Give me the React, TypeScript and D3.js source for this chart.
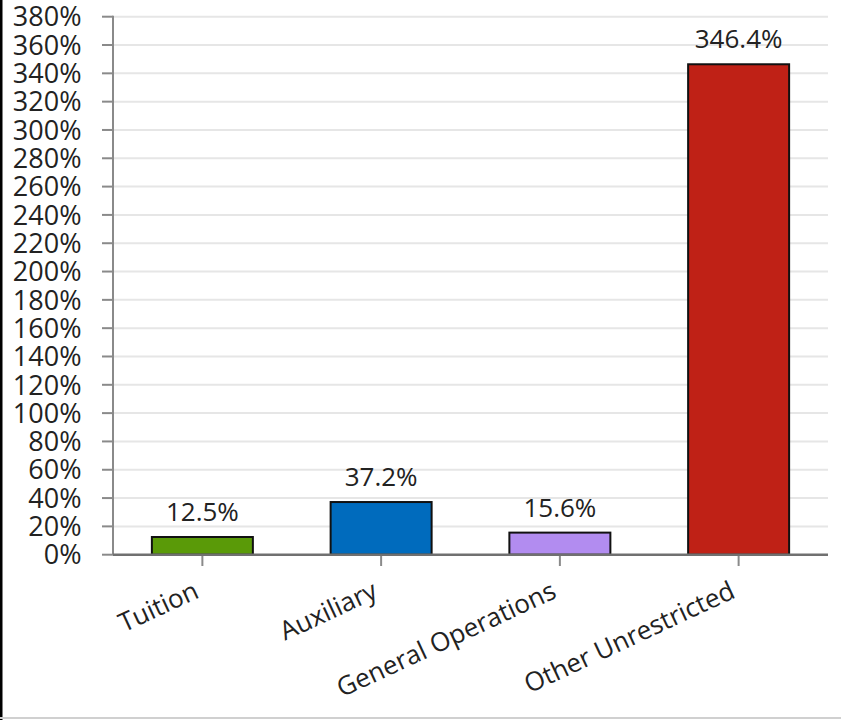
import React from "react";
import * as d3 from "d3";

const categories = ["Tuition", "Auxiliary", "General Operations", "Other Unrestricted"];
const values = [12.5, 37.2, 15.6, 346.4];
const colors = ["#5a9a08", "#006bbd", "#b28cf0", "#bf2116"];
const yTicks = d3.range(0, 381, 20);

const W = 841;
const H = 720;
const left = 113;
const right = 828;
const top = 16.7;
const bottom = 554.7;

export default function App() {
  const x = d3.scaleBand<string>().domain(categories).range([left, right]).paddingInner(0).paddingOuter(0);
  const y = d3.scaleLinear().domain([0, 380]).range([bottom, top]);
  const bw = x.bandwidth() * 0.565;
  const font = "'Open Sans', 'Noto Sans', sans-serif";
  return (
    <svg width={W} height={H} style={{ position: "absolute", left: 0, top: 0 }} fontFamily={font}>
      <rect x={0} y={0} width={W} height={H} fill="#fff" />
      {yTicks.map((t) => (
        <g key={t}>
          {t > 0 && <line x1={left} x2={right} y1={y(t)} y2={y(t)} stroke="#e6e6e6" strokeWidth={2} />}
          <line x1={102} x2={left} y1={y(t)} y2={y(t)} stroke="#8a8a8a" strokeWidth={2} />
          <text x={81.5} y={y(t)} dy="0.36em" textAnchor="end" fontSize={27} fill="#222">
            {t}%
          </text>
        </g>
      ))}
      <line x1={left} x2={left} y1={top - 1} y2={bottom} stroke="#8a8a8a" strokeWidth={2} />
      {categories.map((c, i) => {
        const cx = (x(c) as number) + x.bandwidth() / 2;
        return (
          <g key={c}>
            <rect
              x={cx - bw / 2}
              y={y(values[i])}
              width={bw}
              height={bottom - y(values[i])}
              fill={colors[i]}
              stroke="#111"
              strokeWidth={2}
            />
            <text x={cx} y={y(values[i]) - 16} textAnchor="middle" fontSize={26} fill="#222">
              {values[i]}%
            </text>
            <line x1={cx} x2={cx} y1={bottom} y2={566} stroke="#8a8a8a" strokeWidth={2} />
            <text
              transform={`translate(${cx - 2},597) rotate(-25)`}
              textAnchor="end"
              fontSize={26}
              fill="#222"
            >
              {c}
            </text>
          </g>
        );
      })}
      <line x1={left} x2={right} y1={bottom} y2={bottom} stroke="#707070" strokeWidth={2.5} />
      <rect x={0} y={0} width={2.5} height={H} fill="#000" />
      <line x1={0} x2={W} y1={718} y2={718} stroke="#d0d0d0" strokeWidth={2} />
    </svg>
  );
}
